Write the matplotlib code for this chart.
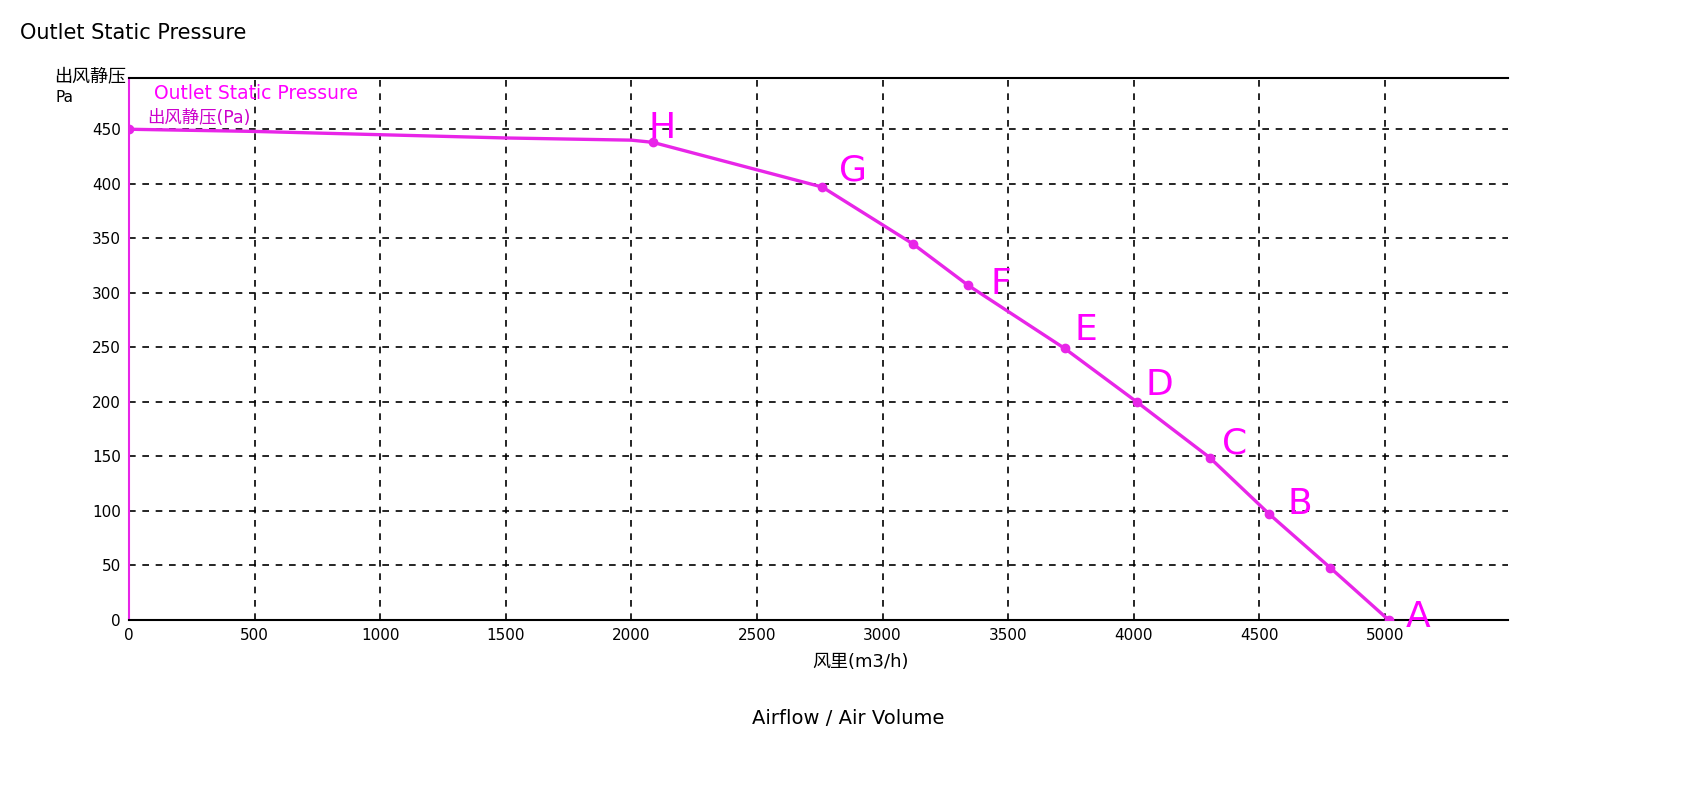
import matplotlib
matplotlib.use("Agg")
import matplotlib.pyplot as plt

plt.rcParams['font.family'] = ['DejaVu Sans', 'Noto Sans CJK SC']

# curve data (airflow m3/h, static pressure Pa)
curve_x = [0, 500, 1000, 1500, 2000, 2085, 2760, 3120, 3340, 3725, 4012, 4302, 4540, 4782, 5015]
curve_y = [450, 448, 445, 442, 440, 438, 397, 345, 307, 249, 200, 149, 97, 48, 0]
marker_x = [0, 2085, 2760, 3120, 3340, 3725, 4012, 4302, 4540, 4782, 5015]
marker_y = [450, 438, 397, 345, 307, 249, 200, 149, 97, 48, 0]
point_labels = ['H', 'G', 'F', 'E', 'D', 'C', 'B', 'A']
point_label_x = [2085, 2760, 3340, 3725, 4012, 4302, 4540, 5015]
point_label_y = [438, 397, 307, 249, 200, 149, 97, 0]
xticks = [0, 500, 1000, 1500, 2000, 2500, 3000, 3500, 4000, 4500, 5000]
yticks = [0, 50, 100, 150, 200, 250, 300, 350, 400, 450]

fig = plt.figure(figsize=(16.87, 7.95), dpi=100)
ax = fig.add_axes([0.0765, 0.2201, 0.8174, 0.6818])
col = '#e825e8'
ax.plot(curve_x, curve_y, color=col, lw=2.4, zorder=3)
ax.plot(marker_x, marker_y, 'o', color=col, ms=6, zorder=4)

offsets = {'H': (-3, 3), 'G': (12, 5), 'F': (16, -6), 'E': (7, 6), 'D': (6, 5),
           'C': (9, 3), 'B': (13, 0), 'A': (12, -5)}
for lab, x, y in zip(point_labels, point_label_x, point_label_y):
    dx, dy = offsets[lab]
    ax.annotate(lab, (x, y), xytext=(dx, dy), textcoords='offset points',
                color='#ff00ff', fontsize=26, ha='left', va='baseline', zorder=5,
                annotation_clip=False)

ax.set_xlim(0, 5490)
ax.set_ylim(0, 497)
ax.set_xticks(xticks)
ax.set_yticks(yticks)
ax.tick_params(length=0, labelsize=11, pad=6)
ax.grid(True, color='black', ls=(0, (4, 4)), lw=1.2)
ax.spines['right'].set_visible(False)
ax.spines['left'].set_color(col)
ax.spines['left'].set_linewidth(1.5)
ax.spines['top'].set_linewidth(1.5)
ax.spines['bottom'].set_linewidth(1.5)
ax.set_axisbelow(True)

fig.text(0.510, 0.167, '风里(m3/h)', fontsize=13, ha='center', va='center')

fig.text(0.012, 0.958, 'Outlet Static Pressure', fontsize=15, ha='left', va='center')
fig.text(0.503, 0.096, 'Airflow / Air Volume', fontsize=14, ha='center', va='center')
fig.text(0.032, 0.904, '出风静压', fontsize=13, ha='left', va='center')
fig.text(0.033, 0.877, 'Pa', fontsize=11, ha='left', va='center')
fig.text(0.091, 0.883, 'Outlet Static Pressure', fontsize=13.5, color='#ff00ff', ha='left', va='center')
fig.text(0.087, 0.852, '出风静压(Pa)', fontsize=12.5, color='#cc00cc', ha='left', va='center')

fig.savefig('out.png', dpi=100)
